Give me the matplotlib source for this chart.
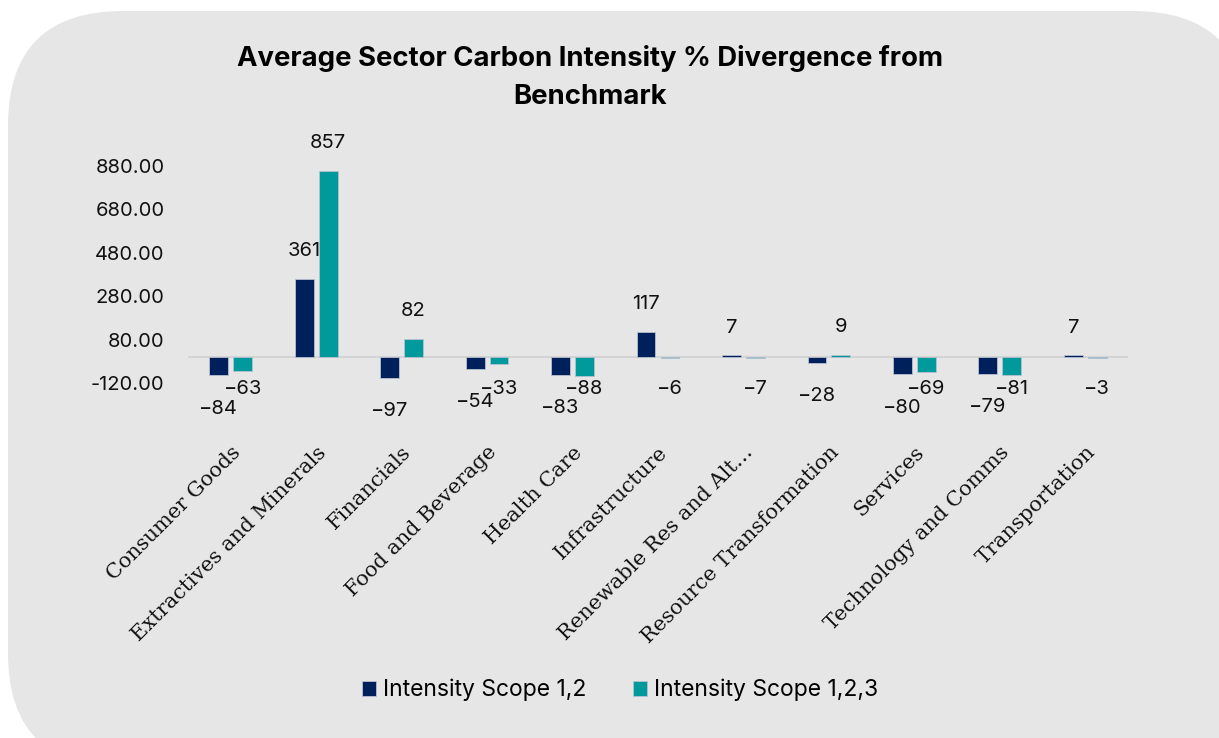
import matplotlib.pyplot as plt
from matplotlib.patches import FancyBboxPatch
import numpy as np

# sector names as shown on the x axis
sectors = ['Consumer Goods', 'Extractives and Minerals', 'Financials', 'Food and Beverage',
           'Health Care', 'Infrastructure', 'Renewable Res and Alt\u2026', 'Resource Transformation',
           'Services', 'Technology and Comms', 'Transportation']
scope_12 = [-84, 361, -97, -54, -83, 117, 7, -28, -80, -79, 7]
scope_123 = [-63, 857, 82, -33, -88, -6, -7, 9, -69, -81, -3]
y_ticks = [-120, 80, 280, 480, 680, 880]

navy = '#00205b'
teal = '#00999c'
panel = '#e6e6e6'

plt.rcParams['font.family'] = ['Inter', 'DejaVu Sans']

fig = plt.figure(figsize=(12.19, 7.38), dpi=100)
fig.patch.set_facecolor('white')

# rounded grey panel behind everything (pixel coords)
bg = FancyBboxPatch((8, -30), 1240, 738 - 11 + 30, boxstyle='round,pad=0,rounding_size=115',
                    transform=None, facecolor=panel, edgecolor='none', zorder=-10)
fig.patches.append(bg)

ax = fig.add_axes([188 / 1219, 1 - 383 / 738, (1128 - 188) / 1219, (383 - 166) / 738])
ax.set_facecolor('none')

x = np.arange(len(sectors))
w = 0.22
off = 0.14
ax.bar(x - off, scope_12, w, color=navy, edgecolor='#b8c0d0', linewidth=0.6, zorder=3,
       label='Intensity Scope 1,2')
ax.bar(x + off, scope_123, w, color=teal, edgecolor='#b8c0d0', linewidth=0.6, zorder=3,
       label='Intensity Scope 1,2,3')
ax.axhline(0, color='#d4d4d4', lw=1.5, zorder=2)

ax.set_ylim(-120, 880)
ax.set_xlim(-0.5, len(sectors) - 0.5)
ax.set_yticks(y_ticks)
ax.set_yticklabels([f'{v:.2f}' for v in y_ticks])
for s in ax.spines.values():
    s.set_visible(False)
ax.tick_params(axis='y', length=0, pad=17, labelsize=14.5, colors='#111111')
ax.tick_params(axis='x', length=0, pad=43)
ax.set_xticks(x)
ax.set_xticklabels(sectors, rotation=45, ha='right', rotation_mode='anchor',
                   family=['DejaVu Serif'], fontsize=15, color='#111111')

# data labels, Excel style: above positives, below negatives
for series, dx, name in ((scope_12, -off, 'a'), (scope_123, off, 'b')):
    for i, v in enumerate(series):
        if v >= 0:
            ax.annotate(str(v), (i + dx, v), xytext=(0, 20), textcoords='offset points',
                        ha='center', va='center', fontsize=14.5, color='#111111')
        elif name == 'a':
            ax.annotate(f'\u2212{abs(v)}', (i + dx, v), xytext=(0, -24), textcoords='offset points',
                        ha='center', va='center', fontsize=14.5, color='#111111',
                        annotation_clip=False)
        else:
            ax.annotate(f'\u2212{abs(v)}', (i + dx, -146), ha='center', va='center',
                        fontsize=14.5, color='#111111', annotation_clip=False)

fig.text(590 / 1219, 1 - 78 / 738, 'Average Sector Carbon Intensity % Divergence from\nBenchmark',
         ha='center', va='center', fontsize=19.8, fontweight='bold', linespacing=1.6)

leg = fig.legend(loc='center', bbox_to_anchor=(620 / 1219, 1 - 690 / 738), ncol=2, frameon=False,
                 fontsize=16.5, handlelength=0.65, handleheight=0.65, handletextpad=0.3,
                 columnspacing=2.0)

fig.savefig('out.png', dpi=100, facecolor=fig.get_facecolor())
